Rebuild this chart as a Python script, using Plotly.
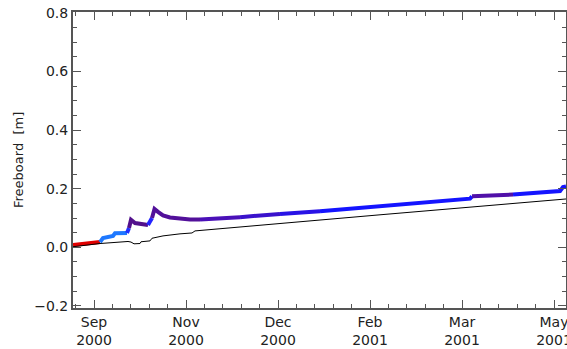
import plotly.graph_objects as go

# ---- data ----
# coloured freeboard series, split into colour segments
seg_dates = [
    ["2000-09-09 12:00", "2000-09-23"],
    ["2000-09-23", "2000-09-24 12:00", "2000-09-29 12:00", "2000-09-30 12:00", "2000-10-06 12:00"],
    ["2000-10-06 12:00", "2000-10-07 12:00"],
    ["2000-10-07 12:00", "2000-10-08 12:00", "2000-10-10 12:00", "2000-10-13", "2000-10-17"],
    ["2000-10-17", "2000-10-18", "2000-10-19"],
    ["2000-10-19", "2000-10-20 06:00", "2000-10-22", "2000-10-24 12:00", "2000-10-28",
     "2000-11-02", "2000-11-07", "2000-11-12"],
    ["2000-11-12", "2000-12-02"],
    ["2000-12-02", "2000-12-22"],
    ["2000-12-22", "2001-01-11"],
    ["2001-01-11", "2001-02-10", "2001-03-27", "2001-03-28"],
    ["2001-03-28", "2001-04-17 12:00"],
    ["2001-04-17 12:00", "2001-05-11", "2001-05-12 12:00", "2001-05-14"],
]
seg_values = [
    [0.008, 0.018],
    [0.018, 0.032, 0.039, 0.048, 0.049],
    [0.049, 0.066],
    [0.066, 0.094, 0.083, 0.080, 0.076],
    [0.076, 0.087, 0.100],
    [0.100, 0.131, 0.121, 0.109, 0.102, 0.097, 0.095, 0.095],
    [0.095, 0.103],
    [0.103, 0.114],
    [0.114, 0.123],
    [0.123, 0.141, 0.166, 0.174],
    [0.174, 0.180],
    [0.180, 0.192, 0.206, 0.208],
]
seg_colors = ["#e00000", "#1e78ff", "#2030ff", "#52108c", "#2424ff", "#52109a",
              "#4a10b8", "#3a12cc", "#2812e6", "#1414ff", "#5010a8", "#1414ff"]

# thin black reference series
ref_dates = ["2000-09-09 12:00", "2000-09-23", "2000-10-07", "2000-10-08 12:00", "2000-10-10",
             "2000-10-13", "2000-10-13 12:00", "2000-10-18", "2000-10-19", "2000-10-24 12:00",
             "2000-11-02", "2000-11-08", "2000-11-09 12:00", "2000-12-22", "2001-02-10",
             "2001-05-14"]
ref_values = [0.002, 0.013, 0.020, 0.018, 0.012, 0.013, 0.019, 0.022, 0.031, 0.039,
              0.046, 0.049, 0.056, 0.082, 0.111, 0.165]

# axis ticks
x_tickvals = ["2000-09-20", "2000-11-05", "2000-12-21", "2001-02-05", "2001-03-23", "2001-05-08"]
x_ticktext = ["Sep<br>2000", "Nov<br>2000", "Dec<br>2000", "Feb<br>2001", "Mar<br>2001", "May<br>2001"]
y_tickvals = [-0.2, 0.0, 0.2, 0.4, 0.6, 0.8]

fig = go.Figure()
for d, v, c in zip(seg_dates, seg_values, seg_colors):
    fig.add_trace(go.Scatter(x=d, y=v, mode="lines", line=dict(color=c, width=4),
                             showlegend=False, hoverinfo="skip"))
fig.add_trace(go.Scatter(x=ref_dates, y=ref_values, mode="lines",
                         line=dict(color="black", width=1), showlegend=False))

axis_col = "#555555"
tfont = dict(family="DejaVu Sans", size=14, color="#222222")
fig.update_layout(
    width=567, height=349,
    margin=dict(l=73, r=1, t=12, b=41),
    plot_bgcolor="white", paper_bgcolor="white",
    font=tfont,
)
fig.update_xaxes(
    type="date", automargin=False,
    range=["2000-09-09 12:00", "2001-05-14"],
    tickmode="array", tickvals=x_tickvals, ticktext=x_ticktext,
    ticks="inside", ticklen=8, tickwidth=1, tickcolor=axis_col,
    showline=True, linecolor=axis_col, linewidth=2, mirror="ticks",
    showgrid=False, zeroline=False, ticklabeloverflow="allow",
    minor=dict(ticks="inside", ticklen=4, tickcolor=axis_col,
               tick0="2000-09-20", dtick=9.2 * 86400000, showgrid=False),
    tickfont=tfont,
)
fig.update_yaxes(
    automargin=False,
    range=[-0.207, 0.803],
    tickmode="array", tickvals=y_tickvals, tickformat=".1f",
    ticks="inside", ticklen=8, tickwidth=1, tickcolor=axis_col,
    showline=True, linecolor=axis_col, linewidth=2, mirror="ticks",
    showgrid=False, zeroline=False,
    minor=dict(ticks="inside", ticklen=4, tickcolor=axis_col,
               tick0=0, dtick=0.05, showgrid=False),
    tickfont=tfont,
)
fig.add_annotation(text="Freeboard  [m]", xref="paper", yref="paper",
                   x=-0.1116, y=0.5, xanchor="center", yanchor="middle",
                   textangle=-90, showarrow=False,
                   font=dict(family="DejaVu Sans", size=13, color="#222222"))

fig.write_html("out.html")
